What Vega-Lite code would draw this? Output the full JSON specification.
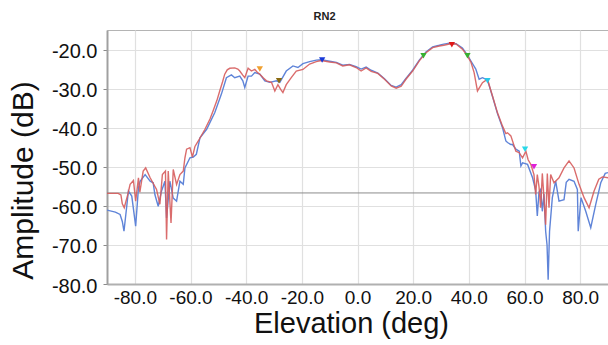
{
  "$schema": "https://vega.github.io/schema/vega-lite/v6.json",
  "width": 501,
  "height": 254,
  "autosize": "none",
  "padding": {"left": 107, "top": 30, "right": 0, "bottom": 61},
  "background": "white",
  "title": {"text": "RN2", "font": "Liberation Sans", "fontSize": 11, "fontWeight": "bold", "color": "#222222", "anchor": "middle", "dx": -33, "dy": 12, "offset": 11, "baseline": "alphabetic"},
  "config": {"view": {"stroke": "#b4b4b4", "strokeWidth": 1}, "font": "Liberation Sans"},
  "datasets": {
    "blue": [
      {"x": -90, "y": -61.1}, {"x": -87, "y": -61.6}, {"x": -85.3, "y": -62.2}, {"x": -84.5, "y": -64}, {"x": -83.9, "y": -66.5},
      {"x": -82.3, "y": -56.2}, {"x": -81.1, "y": -57.5}, {"x": -79.7, "y": -65.2}, {"x": -78.7, "y": -55.4}, {"x": -78.1, "y": -53.7},
      {"x": -76.3, "y": -52}, {"x": -74.5, "y": -53.7}, {"x": -73.4, "y": -54.1}, {"x": -72.8, "y": -57.1}, {"x": -71.6, "y": -60.1},
      {"x": -70.4, "y": -56.2}, {"x": -69.2, "y": -53.7}, {"x": -68.6, "y": -63.1}, {"x": -67.4, "y": -53.7}, {"x": -66.2, "y": -58},
      {"x": -65, "y": -58.8}, {"x": -63.8, "y": -53.7}, {"x": -62.6, "y": -54.5}, {"x": -62, "y": -50.3}, {"x": -60.2, "y": -47.7},
      {"x": -59, "y": -47.5}, {"x": -57.9, "y": -46.8}, {"x": -56.6, "y": -42.6}, {"x": -54.2, "y": -40.4}, {"x": -51.3, "y": -36.2},
      {"x": -48.9, "y": -31.4}, {"x": -47.1, "y": -27.2}, {"x": -45.3, "y": -26.5}, {"x": -44.1, "y": -27.2}, {"x": -42.3, "y": -26.8},
      {"x": -41.2, "y": -28}, {"x": -40.5, "y": -29.7}, {"x": -39.3, "y": -26.8}, {"x": -38.1, "y": -26.8}, {"x": -36.9, "y": -25.9},
      {"x": -35.1, "y": -26.3}, {"x": -33.3, "y": -28}, {"x": -31.5, "y": -28.4}, {"x": -29.1, "y": -28}, {"x": -27.9, "y": -28.4},
      {"x": -25.6, "y": -25.5}, {"x": -23.2, "y": -24.2}, {"x": -21.4, "y": -24.6}, {"x": -19.6, "y": -23.6}, {"x": -17.2, "y": -23.1},
      {"x": -14.8, "y": -22.7}, {"x": -13, "y": -22.6}, {"x": -10, "y": -23}, {"x": -7.6, "y": -23.3}, {"x": -5.3, "y": -24},
      {"x": -2.9, "y": -23.8}, {"x": -0.5, "y": -24.4}, {"x": 1.3, "y": -25}, {"x": 3.1, "y": -24.5}, {"x": 4.9, "y": -25.3},
      {"x": 7.3, "y": -26}, {"x": 9.7, "y": -27.5}, {"x": 12.1, "y": -29.2}, {"x": 13.9, "y": -29.6}, {"x": 15.7, "y": -29},
      {"x": 17.4, "y": -27.4}, {"x": 19.8, "y": -25.3}, {"x": 22.2, "y": -22.7}, {"x": 24.6, "y": -20.6}, {"x": 27, "y": -19.3},
      {"x": 29.4, "y": -18.9}, {"x": 31, "y": -18.6}, {"x": 33, "y": -18.4}, {"x": 35.4, "y": -18.5}, {"x": 37.7, "y": -19.6},
      {"x": 39.5, "y": -21.4}, {"x": 40.8, "y": -23}, {"x": 42.5, "y": -25}, {"x": 43.7, "y": -27.6}, {"x": 44.9, "y": -27.2},
      {"x": 46.7, "y": -27.8}, {"x": 48.5, "y": -32}, {"x": 50.3, "y": -36.4}, {"x": 52.1, "y": -40}, {"x": 53.3, "y": -43.4},
      {"x": 53.9, "y": -43.8}, {"x": 55.1, "y": -44.3}, {"x": 55.7, "y": -44.3}, {"x": 56.9, "y": -45.5}, {"x": 58.1, "y": -46},
      {"x": 58.7, "y": -49.8}, {"x": 59.3, "y": -49}, {"x": 61.1, "y": -49.4}, {"x": 62.9, "y": -52.8}, {"x": 64, "y": -56},
      {"x": 64.6, "y": -62.6}, {"x": 65.2, "y": -56.5}, {"x": 65.8, "y": -55.8}, {"x": 66.4, "y": -61.4}, {"x": 67, "y": -57},
      {"x": 67.6, "y": -66.5}, {"x": 68.1, "y": -70}, {"x": 68.5, "y": -78.9}, {"x": 69, "y": -66.5}, {"x": 70, "y": -57.9},
      {"x": 71.2, "y": -53.7}, {"x": 72.4, "y": -58.8}, {"x": 74.2, "y": -58.4}, {"x": 75, "y": -54}, {"x": 76, "y": -53.2},
      {"x": 77.8, "y": -53.7}, {"x": 79, "y": -55.8}, {"x": 79.3, "y": -66.5}, {"x": 80.3, "y": -57.9}, {"x": 82, "y": -61.4},
      {"x": 83.8, "y": -65.6}, {"x": 85.6, "y": -59.6}, {"x": 87.4, "y": -54.1}, {"x": 89, "y": -51.7}, {"x": 90, "y": -51.5}
    ],
    "red": [
      {"x": -90, "y": -56.8}, {"x": -86, "y": -56.8}, {"x": -85, "y": -57.2}, {"x": -84.5, "y": -59.5}, {"x": -83.8, "y": -60.5},
      {"x": -82.5, "y": -57}, {"x": -81.7, "y": -54.5}, {"x": -80.5, "y": -53.5}, {"x": -79.7, "y": -58.8}, {"x": -78.7, "y": -52.8},
      {"x": -78.2, "y": -56.5}, {"x": -77, "y": -51.1}, {"x": -76.1, "y": -50.3}, {"x": -74.5, "y": -52.8}, {"x": -72.2, "y": -55.8},
      {"x": -71, "y": -59.6}, {"x": -70.1, "y": -52}, {"x": -69, "y": -51.1}, {"x": -68.6, "y": -68.6}, {"x": -68, "y": -51.1},
      {"x": -67, "y": -64.4}, {"x": -66.2, "y": -50.7}, {"x": -65, "y": -54.5}, {"x": -63.8, "y": -52}, {"x": -62.6, "y": -51.1},
      {"x": -62, "y": -47.7}, {"x": -61.4, "y": -45.5}, {"x": -60.2, "y": -45.1}, {"x": -59.3, "y": -47.5}, {"x": -58.4, "y": -44.8},
      {"x": -57.2, "y": -43.4}, {"x": -54.8, "y": -40.4}, {"x": -53, "y": -37.8}, {"x": -51.9, "y": -35.7}, {"x": -50.5, "y": -33},
      {"x": -49.5, "y": -30.6}, {"x": -48.5, "y": -28.3}, {"x": -47.7, "y": -26.3}, {"x": -46.8, "y": -25.2}, {"x": -45.9, "y": -24.8},
      {"x": -44.1, "y": -24.7}, {"x": -43, "y": -25}, {"x": -42.3, "y": -25.5}, {"x": -41.3, "y": -26.5}, {"x": -40.5, "y": -27.2},
      {"x": -39.3, "y": -24.8}, {"x": -38.1, "y": -25.5}, {"x": -36.9, "y": -25.1}, {"x": -36, "y": -25.8}, {"x": -35.1, "y": -26.3},
      {"x": -33.8, "y": -27.3}, {"x": -32.7, "y": -28}, {"x": -30.9, "y": -28.4}, {"x": -29.7, "y": -30.6}, {"x": -28.6, "y": -29},
      {"x": -27.6, "y": -30.2}, {"x": -26.8, "y": -31}, {"x": -25.6, "y": -29}, {"x": -23.8, "y": -27.2}, {"x": -22, "y": -25.5},
      {"x": -19.6, "y": -25.1}, {"x": -17.2, "y": -23.7}, {"x": -14.8, "y": -23.1}, {"x": -13, "y": -22.8}, {"x": -10, "y": -23.2},
      {"x": -7.6, "y": -23.4}, {"x": -5.3, "y": -24.2}, {"x": -2.9, "y": -23.9}, {"x": -0.5, "y": -24.6}, {"x": 1.3, "y": -25.5},
      {"x": 3.1, "y": -24.7}, {"x": 4.9, "y": -25.6}, {"x": 7.3, "y": -26.1}, {"x": 9.7, "y": -27.6}, {"x": 12.1, "y": -29.3},
      {"x": 13.9, "y": -29.9}, {"x": 15.7, "y": -29.4}, {"x": 17.4, "y": -27.6}, {"x": 19.8, "y": -25.5}, {"x": 22.2, "y": -22.9},
      {"x": 24.6, "y": -20.8}, {"x": 27, "y": -19.5}, {"x": 29.4, "y": -19.1}, {"x": 31, "y": -18.9}, {"x": 33, "y": -18.6},
      {"x": 35.4, "y": -18.6}, {"x": 37.7, "y": -19.9}, {"x": 39.5, "y": -21.6}, {"x": 40.8, "y": -23.3}, {"x": 41.9, "y": -25.9},
      {"x": 43.1, "y": -30.6}, {"x": 44.9, "y": -28.5}, {"x": 46.7, "y": -27.6}, {"x": 48.5, "y": -31.9}, {"x": 50.3, "y": -36.2},
      {"x": 52.1, "y": -39.6}, {"x": 53.3, "y": -41.5}, {"x": 53.9, "y": -41.3}, {"x": 55.1, "y": -42.1}, {"x": 56.9, "y": -46},
      {"x": 58.1, "y": -46.4}, {"x": 59.3, "y": -47.7}, {"x": 60.5, "y": -46}, {"x": 61.3, "y": -48.2}, {"x": 62.3, "y": -49.4},
      {"x": 63.4, "y": -52}, {"x": 64, "y": -57.1}, {"x": 64.6, "y": -52}, {"x": 65.2, "y": -55}, {"x": 65.8, "y": -60.5},
      {"x": 66.4, "y": -51.7}, {"x": 67, "y": -58}, {"x": 67.6, "y": -64.8}, {"x": 68.2, "y": -51.7}, {"x": 68.8, "y": -60.5},
      {"x": 69.4, "y": -52}, {"x": 70.6, "y": -54.1}, {"x": 72.4, "y": -52.8}, {"x": 74.2, "y": -50.3}, {"x": 76, "y": -48.5},
      {"x": 77.8, "y": -50.3}, {"x": 79.6, "y": -54.5}, {"x": 81.4, "y": -57.9}, {"x": 83.2, "y": -60.5}, {"x": 85, "y": -56.2},
      {"x": 86.7, "y": -53.2}, {"x": 88, "y": -52.6}, {"x": 90, "y": -52.8}
    ],
    "markers": [
      {"name": "m1", "x": -35.1, "y": -25.0}, {"name": "m2", "x": -28.2, "y": -28.0}, {"name": "m3", "x": -12.7, "y": -22.7},
      {"name": "m4", "x": 23.7, "y": -21.6}, {"name": "m5", "x": 33.9, "y": -18.8}, {"name": "m6", "x": 39.5, "y": -21.6},
      {"name": "m7", "x": 46.7, "y": -28.0}, {"name": "m8", "x": 60.2, "y": -45.5}, {"name": "m9", "x": 63.4, "y": -50.0}
    ],
    "reference": [{"level": -56.7}]
  },
  "layer": [
    {
      "data": {"name": "reference"},
      "mark": {"type": "rule", "color": "#8c8c8c", "strokeWidth": 1},
      "encoding": {
        "y": {"field": "level", "type": "quantitative", "scale": {"domain": [-80, -15], "nice": false, "zero": false},
          "axis": {
            "values": [-80, -75, -70, -65, -60, -55, -50, -45, -40, -35, -30, -25, -20],
            "labelExpr": "datum.value % 10 == 0 ? (datum.value < 0 ? '-' : '') + format(abs(datum.value), '.1f') : ''",
            "title": "Amplitude (dB)", "titleFontSize": 30, "titleFontWeight": "normal", "titleColor": "#111111",
            "titleX": -75, "titleY": 150, "titleAlign": "center", "titleBaseline": "alphabetic", "titleAngle": -90,
            "labelFontSize": 20, "labelColor": "#111111", "labelPadding": 6, "labelOffset": 2, "labelOverlap": false, "labelFlush": false,
            "tickSize": 4, "tickColor": "#8a8a8a", "domainColor": "#a0a0a0", "domainWidth": 2,
            "gridColor": "#e0e0e0", "gridWidth": 1.2
          }
        }
      }
    },
    {
      "data": {"name": "blue"},
      "mark": {"type": "line", "color": "#5f84d8", "strokeWidth": 1.4, "clip": true},
      "encoding": {
        "x": {"field": "x", "type": "quantitative", "scale": {"domain": [-90, 90], "nice": false, "zero": false},
          "axis": {
            "values": [-80, -70, -60, -50, -40, -30, -20, -10, 0, 10, 20, 30, 40, 50, 60, 70, 80],
            "labelExpr": "datum.value % 20 == 0 ? (datum.value < 0 ? '-' : '') + format(abs(datum.value), '.1f') : ''",
            "title": "Elevation (deg)", "titleFontSize": 29, "titleFontWeight": "normal", "titleColor": "#111111",
            "titleX": 244, "titleY": 48, "titleAlign": "center", "titleBaseline": "alphabetic",
            "labelFontSize": 19, "labelColor": "#111111", "labelPadding": 4, "labelOverlap": false, "labelFlush": false,
            "tickSize": 0, "domainColor": "#b0b0b0", "domainWidth": 2,
            "gridColor": "#e0e0e0", "gridWidth": 1.2
          }
        },
        "y": {"field": "y", "type": "quantitative"}
      }
    },
    {
      "data": {"name": "red"},
      "mark": {"type": "line", "color": "#d65c5c", "strokeWidth": 1.4, "opacity": 0.9, "clip": true},
      "encoding": {
        "x": {"field": "x", "type": "quantitative"},
        "y": {"field": "y", "type": "quantitative"}
      }
    },
    {
      "data": {"name": "markers"},
      "mark": {"type": "point", "shape": "triangle-down", "filled": true, "opacity": 1, "size": 40},
      "encoding": {
        "x": {"field": "x", "type": "quantitative"},
        "y": {"field": "y", "type": "quantitative"},
        "color": {"field": "name", "type": "nominal", "legend": null,
          "scale": {"domain": ["m1", "m2", "m3", "m4", "m5", "m6", "m7", "m8", "m9"],
            "range": ["#f0a030", "#8a6a10", "#1838d8", "#38b030", "#e01818", "#38b030", "#28c8e8", "#28d8e8", "#e020d8"]}}
      }
    }
  ]
}
